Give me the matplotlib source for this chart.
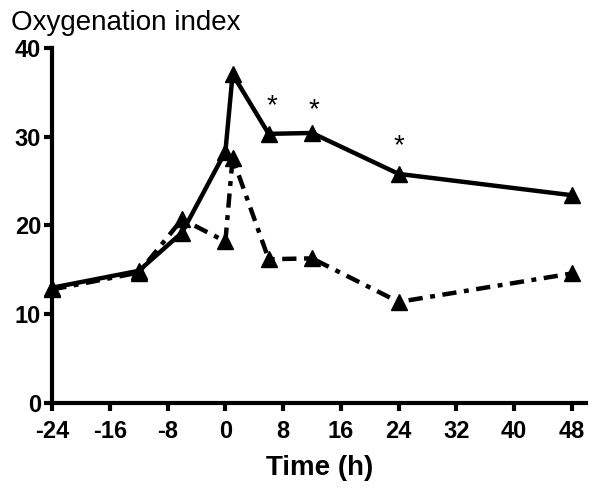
import matplotlib
matplotlib.use("Agg")
import matplotlib.pyplot as plt

plt.rcParams['font.family'] = ['Liberation Sans', 'DejaVu Sans']

# time points (h)
time = [-24, -12, -6, 0, 1, 6, 12, 24, 48]
# oxygenation index, solid series
oi_solid = [13.0, 14.9, 19.2, 28.3, 37.0, 30.3, 30.4, 25.8, 23.4]
# oxygenation index, dash-dot series
oi_dashdot = [12.8, 14.7, 20.7, 18.2, 27.6, 16.2, 16.3, 11.4, 14.6]
# significance marks
star_x = [6.4, 12.3, 24.0]
star_y = [31.9, 31.5, 27.5]

xticks = [-24, -16, -8, 0, 8, 16, 24, 32, 40, 48]
yticks = [0, 10, 20, 30, 40]

fig = plt.figure(figsize=(6, 5.01), dpi=100)
ax = fig.add_axes([0.087, 0.195, 0.89, 0.71])

ax.plot(time, oi_dashdot, color='black', lw=3.2, dashes=(3.2, 1.7, 1.1, 1.7),
        marker='^', ms=11, clip_on=False)
ax.plot(time, oi_solid, color='black', lw=3.2, marker='^', ms=11, clip_on=False)

for sx, sy in zip(star_x, star_y):
    ax.text(sx, sy, '*', ha='center', va='bottom', fontsize=20)

ax.set_xlim(-24, 50)
ax.set_ylim(0, 40)
ax.set_xticks(xticks)
ax.set_yticks(yticks)
ax.set_xticklabels([str(t) for t in xticks], fontsize=17, fontweight='bold')
ax.set_yticklabels([str(t) for t in yticks], fontsize=17, fontweight='bold')
ax.tick_params(width=3, length=6, direction='out')
ax.tick_params(axis='x', pad=6)
ax.tick_params(axis='y', pad=2)

for side in ['top', 'right']:
    ax.spines[side].set_visible(False)
for side in ['left', 'bottom']:
    ax.spines[side].set_linewidth(3)

ax.set_xlabel('Time (h)', fontsize=20, fontweight='bold', labelpad=9)
fig.text(0.018, 1 - 30 / 501, 'Oxygenation index', fontsize=20, va='baseline', ha='left')

fig.savefig('out.png', dpi=100)
